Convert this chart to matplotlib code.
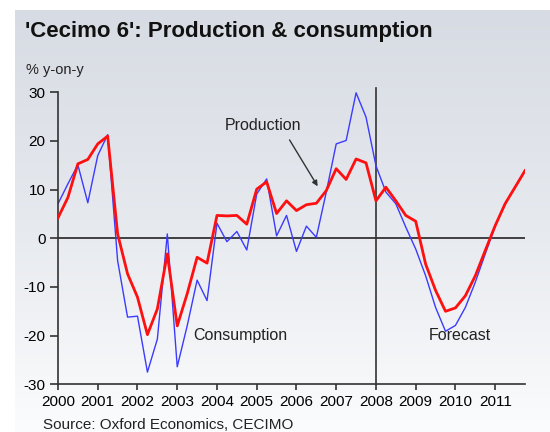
import numpy as np
import matplotlib
matplotlib.use("Agg")
import matplotlib.pyplot as plt
from matplotlib.colors import LinearSegmentedColormap

plt.rcParams["font.family"] = ["Liberation Sans", "DejaVu Sans"]
plt.rcParams["axes.unicode_minus"] = False

# quarterly data, % y-on-y, 2000Q1 .. 2011Q4
years = [2000, 2001, 2002, 2003, 2004, 2005, 2006, 2007, 2008, 2009, 2010, 2011]
production = [4.2, 8.4, 15.3, 16.2,
              19.4, 21.0, 0.9, -7.3,
              -12.1, -19.8, -14.5, -3.2,
              -18.0, -11.4, -3.9, -5.1,
              4.7, 4.6, 4.7, 2.9,
              10.1, 11.6, 5.1, 7.7,
              5.7, 6.9, 7.2, 9.8,
              14.3, 12.1, 16.3, 15.5,
              7.7, 10.5, 7.7, 4.7,
              3.5, -5.3, -10.7, -15.0,
              -14.3, -11.8, -7.7, -2.5,
              2.6, 7.1, 10.5, 13.9]
consumption = [7.1, 11.2, 15.1, 7.3,
               17.0, 21.3, -4.6, -16.2,
               -16.0, -27.5, -20.7, 0.9,
               -26.4, -18.0, -8.6, -12.8,
               3.1, -0.7, 1.4, -2.4,
               9.1, 12.2, 0.5, 4.7,
               -2.7, 2.5, 0.2, 9.5,
               19.4, 20.1, 29.9, 24.9,
               14.9, 9.5, 7.1, 2.3,
               -2.2, -7.7, -14.2, -19.1,
               -17.9, -14.2, -9.0, -3.2,
               2.5, 7.1, 10.5, 13.9]
forecast_start = 2008

t = years[0] + np.arange(len(production)) / 4.0

W, H = 550, 432
fig = plt.figure(figsize=(W / 100, H / 100), dpi=100)

# grey-to-white gradient panel behind the chart
bg = fig.add_axes([15 / W, 0, 1 - 15 / W, 1 - 10 / H], zorder=0)
cmap = LinearSegmentedColormap.from_list("bg", ["#d7dbe3", "#e6e9ee", "#fbfcfd"])
bg.imshow(np.linspace(0, 1, 256).reshape(-1, 1), aspect="auto", cmap=cmap)
bg.axis("off")

ax = fig.add_axes([58 / W, 1 - 384.3 / H, (525 - 58) / W, (384.3 - 92.3) / H], zorder=1)
ax.patch.set_alpha(0)

ax.axhline(0, color="#333333", lw=1.3, zorder=1)
ax.plot([forecast_start, forecast_start], [-30, 30.8], color="#333333", lw=1.2,
        clip_on=False, zorder=1)
ax.plot(t, consumption, color="#3b3bff", lw=1.0, zorder=2)
ax.plot(t, production, color="#ff1010", lw=2.0, zorder=3)

ax.set_xlim(2000, 2011.75)
ax.set_ylim(-30, 30)
ax.set_xticks(years)
ax.set_xticklabels([str(y) for y in years])
ax.set_yticks(range(-30, 31, 10))
for s in ["top", "right"]:
    ax.spines[s].set_visible(False)
for s in ["left", "bottom"]:
    ax.spines[s].set_color("#333333")
    ax.spines[s].set_linewidth(1.2)
ax.tick_params(axis="y", length=6, width=1.2, color="#333333", pad=3, labelsize=11)
ax.tick_params(axis="x", length=4, width=1.2, color="#333333", pad=4, labelsize=11)

ax.text(2005.15, 23.2, "Production", fontsize=11.5, ha="center", va="center", color="#222222")
ax.annotate("", xy=(2006.57, 10.2), xytext=(2005.79, 20.7),
            arrowprops=dict(arrowstyle="-|>", color="#333333", lw=1, mutation_scale=8))
ax.text(2004.58, -20, "Consumption", fontsize=11.5, ha="center", va="center", color="#222222")
ax.text(2010.1, -20, "Forecast", fontsize=11.5, ha="center", va="center", color="#222222")

fig.text(25 / W, 1 - 37 / H, "'Cecimo 6': Production & consumption", fontsize=16,
         weight="bold", ha="left", va="baseline", color="#111111")
fig.text(26 / W, 1 - 70 / H, "% y-on-y", fontsize=10.5, ha="left", va="center", color="#222222")
fig.text(43 / W, 1 - 425 / H, "Source: Oxford Economics, CECIMO", fontsize=11,
         ha="left", va="center", color="#222222")

fig.savefig("out.png", dpi=100)
